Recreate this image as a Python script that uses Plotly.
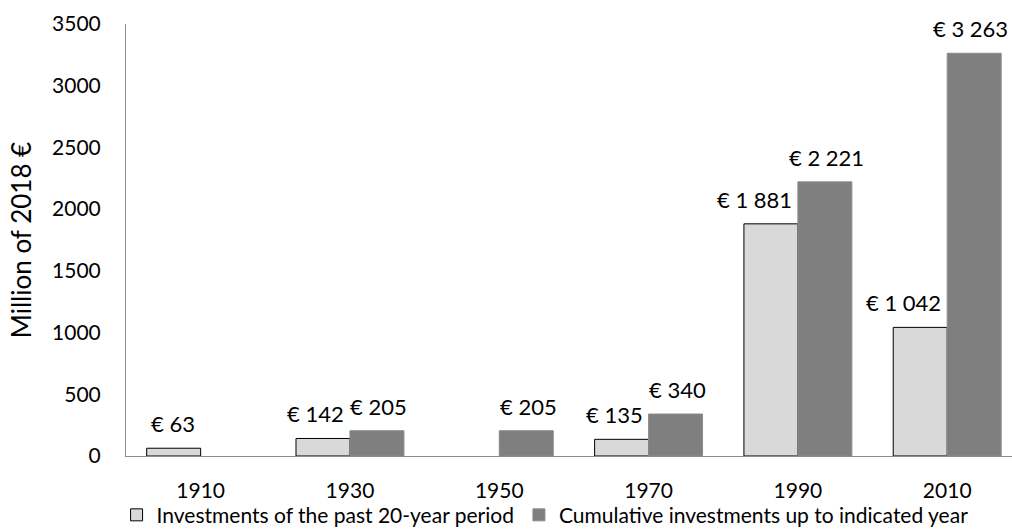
import plotly.graph_objects as go

years = ["1910", "1930", "1950", "1970", "1990", "2010"]
period_inv = [63, 142, None, 135, 1881, 1042]
cumulative_inv = [None, 205, 205, 340, 2221, 3263]
y_ticks = [0, 500, 1000, 1500, 2000, 2500, 3000, 3500]

def fmt(v):
    return "€ " + f"{v:,}".replace(",", " ")

FONT = "Lato"
W, H = 1012, 531
ML, MR, MT, MB = 126, 0, 24, 75
XR = [-0.5, 5.434]
BARGAP = 0.277
cat_px = (W - ML - MR) / (XR[1] - XR[0])
half_bar = cat_px * (1 - BARGAP) / 4

fig = go.Figure()
fig.add_trace(go.Bar(
    x=years, y=period_inv, name="Investments of the past 20-year period",
    marker=dict(color="#d9d9d9", line=dict(color="#000000", width=1)),
))
fig.add_trace(go.Bar(
    x=years, y=cumulative_inv, name="Cumulative investments up to indicated year",
    marker=dict(color="#7f7f7f", line=dict(color="#8c8c8c", width=1)),
))

# light-bar labels sit right-aligned near the group centre, dark-bar labels centred on their bar
for i, v in enumerate(period_inv):
    if v is None:
        continue
    fig.add_annotation(x=i, y=v, xref="x", yref="y", text=fmt(v),
                       showarrow=False, xanchor="right", yanchor="bottom",
                       xshift=-4, yshift=9,
                       font=dict(family=FONT, size=22, color="#000000"))
last = len(cumulative_inv) - 1
for i, v in enumerate(cumulative_inv):
    if v is None:
        continue
    # keep the right-most label inside the page
    nudge = -4 if i == last else 2
    fig.add_annotation(x=i, y=v, xref="x", yref="y", text=fmt(v),
                       showarrow=False, xanchor="center", yanchor="bottom",
                       xshift=half_bar + nudge, yshift=9,
                       font=dict(family=FONT, size=22, color="#000000"))

fig.update_layout(
    width=W, height=H,
    margin=dict(l=ML, r=MR, t=MT, b=MB, autoexpand=False),
    paper_bgcolor="white", plot_bgcolor="white",
    barmode="group", bargap=BARGAP, bargroupgap=0,
    font=dict(family=FONT, size=21, color="#000000"),
    showlegend=True,
    legend=dict(orientation="h", x=0.473, xanchor="center", y=-0.137, yanchor="middle",
                font=dict(family=FONT, size=21), traceorder="normal",
                bgcolor="rgba(0,0,0,0)", itemwidth=30, tracegroupgap=0),
)
fig.update_xaxes(type="category", range=XR, showline=True, linecolor="#8c8c8c", linewidth=1,
                 ticks="", tickfont=dict(family=FONT, size=21), showgrid=False,
                 automargin=False, ticklabelstandoff=16)
fig.update_yaxes(range=[0, 3500], tickvals=y_ticks, showline=True, linecolor="#8c8c8c",
                 linewidth=1, ticks="", showgrid=False, zeroline=False,
                 tickfont=dict(family=FONT, size=21), automargin=False,
                 ticklabelstandoff=20,
                 title=dict(text="Million of 2018 €", font=dict(family=FONT, size=26), standoff=12))
fig.write_html("out.html", config={"displayModeBar": False},
               post_script="document.body.style.margin='0';document.body.style.overflow='hidden';")
